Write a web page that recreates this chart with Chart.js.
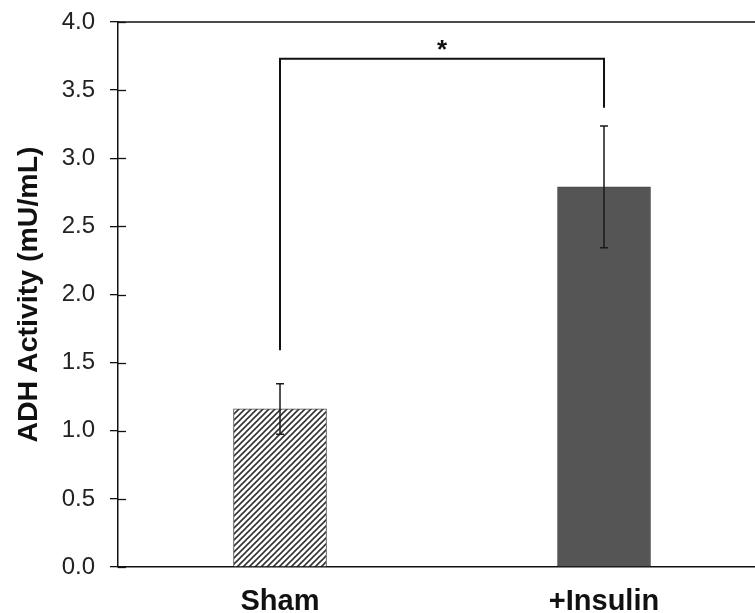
<!DOCTYPE html>
<html><head><meta charset="utf-8">
<script src="https://cdn.jsdelivr.net/npm/chart.js@4/dist/chart.umd.min.js"></script>
<style>html,body{margin:0;padding:0;background:#fff;overflow:hidden}#wrap{width:755px;height:613px;position:relative}</style>
</head><body><div id="wrap"><canvas id="c"></canvas></div>
<script>
// ---- data ----
const categories = ['Sham', '+Insulin'];
const meanValues = [1.16, 2.79];
const errorValues = [0.185, 0.447];
const yTickValues = [0, 0.5, 1.0, 1.5, 2.0, 2.5, 3.0, 3.5, 4.0];
const bracketLevel = [3.73];
const bracketFeet = [1.59, 3.37];
const significanceLabel = ['*'];

// ---- hatch pattern ----
function makeHatch() {
  const s = 6;
  const pc = document.createElement('canvas');
  pc.width = s; pc.height = s;
  const g = pc.getContext('2d');
  g.fillStyle = '#ffffff'; g.fillRect(0, 0, s, s);
  g.strokeStyle = '#333333'; g.lineWidth = 1.6;
  g.beginPath();
  g.moveTo(-1, s + 1); g.lineTo(s + 1, -1);
  g.moveTo(-1, 1); g.lineTo(1, -1);
  g.moveTo(s - 1, s + 1); g.lineTo(s + 1, s - 1);
  g.stroke();
  return g.createPattern(pc, 'repeat');
}
const hatch = makeHatch();

const FONT = "'Liberation Sans', Arial, sans-serif";

const overlay = {
  id: 'overlay',
  afterDatasetsDraw(chart) {
    const ctx = chart.ctx, xs = chart.scales.x, ys = chart.scales.y, ca = chart.chartArea;
    ctx.save();
    // top border
    ctx.strokeStyle = '#111'; ctx.lineWidth = 1.5;
    ctx.beginPath(); ctx.moveTo(ca.left, ys.getPixelForValue(4)); ctx.lineTo(ca.right, ys.getPixelForValue(4)); ctx.stroke();
    // inner tick marks
    ctx.lineWidth = 1.3;
    yTickValues.forEach(v => {
      const y = Math.round(ys.getPixelForValue(v)) + 0.5;
      ctx.beginPath(); ctx.moveTo(ca.left, y); ctx.lineTo(ca.left + 8, y); ctx.stroke();
    });
    // error bars
    ctx.strokeStyle = '#1a1a1a'; ctx.lineWidth = 1.5;
    meanValues.forEach((m, i) => {
      const x = xs.getPixelForValue(i);
      const yt = ys.getPixelForValue(m + errorValues[i]);
      const yb = ys.getPixelForValue(m - errorValues[i]);
      ctx.beginPath();
      ctx.moveTo(x, yt); ctx.lineTo(x, yb);
      ctx.moveTo(x - 4, yt); ctx.lineTo(x + 4, yt);
      ctx.moveTo(x - 4, yb); ctx.lineTo(x + 4, yb);
      ctx.stroke();
    });
    // significance bracket
    const lx = xs.getPixelForValue(0), rx = xs.getPixelForValue(1);
    const by = ys.getPixelForValue(bracketLevel[0]);
    ctx.strokeStyle = '#111'; ctx.lineWidth = 2;
    ctx.beginPath();
    ctx.moveTo(lx, ys.getPixelForValue(bracketFeet[0]));
    ctx.lineTo(lx, by); ctx.lineTo(rx, by);
    ctx.lineTo(rx, ys.getPixelForValue(bracketFeet[1]));
    ctx.stroke();
    ctx.fillStyle = '#111';
    ctx.font = 'bold 26px ' + FONT;
    ctx.textAlign = 'center'; ctx.textBaseline = 'alphabetic';
    ctx.fillText(significanceLabel[0], (lx + rx) / 2, by - 1);
    ctx.restore();
  }
};

new Chart(document.getElementById('c'), {
  type: 'bar',
  data: {
    datasets: [{
      data: categories.map((c, i) => ({ x: i, y: meanValues[i] })),
      backgroundColor: [hatch, '#555555'],
      borderColor: ['#4a4a4a', '#474747'],
      borderWidth: 1,
      barThickness: 93
    }]
  },
  options: {
    responsive: true, maintainAspectRatio: false, animation: false,
    layout: { padding: { left: 8, top: 22, right: 0, bottom: 0 } },
    plugins: { legend: { display: false }, tooltip: { enabled: false } },
    scales: {
      x: {
        type: 'linear', min: -0.5, max: 1.466, offset: false,
        afterBuildTicks: s => { s.ticks = categories.map((c, i) => ({ value: i })); },
        afterFit: s => { s.height = 46; s.paddingLeft = 0; s.paddingRight = 0; },
        grid: { display: false, drawTicks: false },
        border: { display: true, color: '#111', width: 1.5 },
        ticks: {
          padding: 20, color: '#111', maxRotation: 0, autoSkip: false,
          font: { family: FONT, size: 29, weight: 'bold', lineHeight: 1 },
          callback: v => categories[v]
        }
      },
      y: {
        min: 0, max: 4,
        afterBuildTicks: s => { s.ticks = yTickValues.map(v => ({ value: v })); },
        afterFit: s => { s.width = 110; s.paddingTop = 0; s.paddingBottom = 0; },
        grid: { drawOnChartArea: false, drawTicks: true, tickLength: 8, color: '#111', lineWidth: 1.3 },
        border: { display: true, color: '#111', width: 1.5 },
        ticks: {
          padding: 15, color: '#222',
          font: { family: FONT, size: 24 },
          callback: v => v.toFixed(1)
        },
        title: {
          display: true, text: 'ADH Activity (mU/mL)', color: '#111',
          font: { family: FONT, size: 28.5, weight: 'bold' }, padding: { top: 4, bottom: 4 }
        }
      }
    }
  },
  plugins: [overlay]
});
</script></body></html>
